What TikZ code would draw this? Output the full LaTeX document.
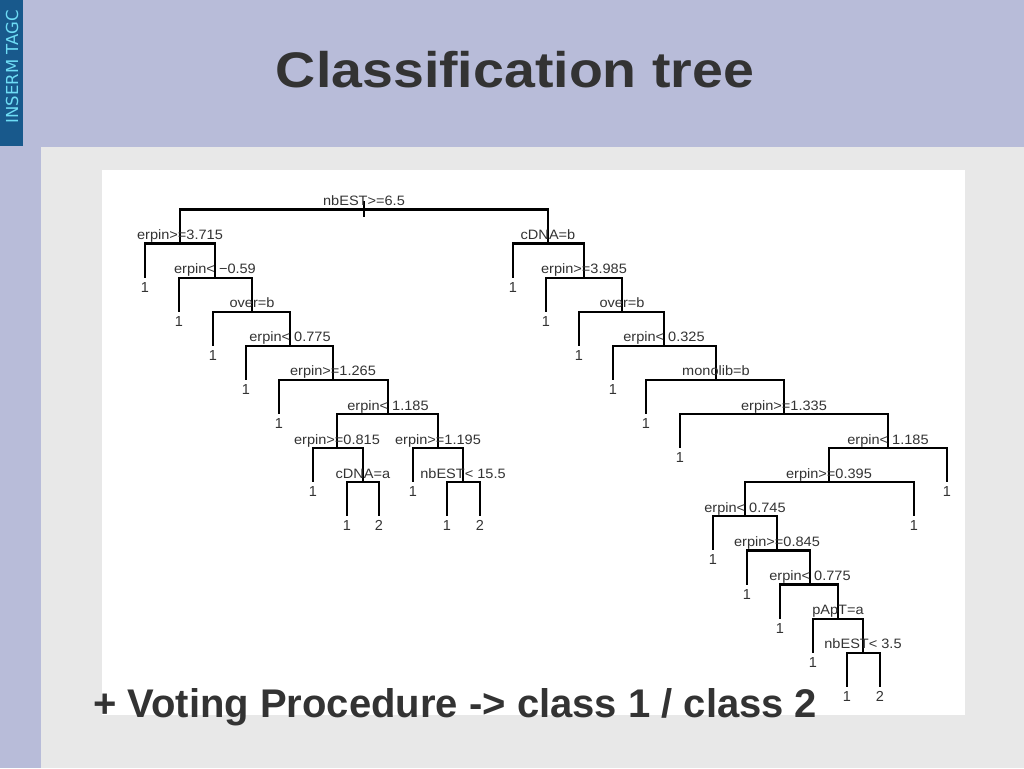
\documentclass[tikz,border=0pt]{standalone}
\usepackage{fontspec}
\setmainfont{Liberation Sans}
\newfontfamily\stripfont{DejaVu Sans}
\definecolor{slidebg}{RGB}{184,188,217}
\definecolor{stripblue}{RGB}{24,89,140}
\definecolor{striptext}{RGB}{110,220,245}
\definecolor{panelgrey}{RGB}{232,232,232}
\definecolor{ink}{RGB}{51,51,51}
\begin{document}
\begin{tikzpicture}[x=1pt,y=-1pt,
  edge/.style={line width=2.2pt, black},
  split/.style={anchor=base, yshift=4pt, inner sep=0pt, text=ink, font=\fontsize{13.6}{15}\selectfont, xscale=1.07},
  leaflab/.style={anchor=base, yshift=-14.5pt, inner sep=0pt, text=ink, font=\fontsize{14.5}{16}\selectfont}]
\useasboundingbox (0,0) rectangle (1024,768);
\fill[slidebg] (0,0) rectangle (1024,768);
\fill[stripblue] (0,0) rectangle (23,146);
\fill[panelgrey] (41,147) rectangle (1024,768);
\fill[white] (102,170) rectangle (965,715);
\node[rotate=90, inner sep=0pt, text=striptext, font=\stripfont\fontsize{16.5}{18}\selectfont] (strip) at (12,67) {INSERM TAGC};
\node[anchor=base, inner sep=0pt, text=ink, font=\bfseries\fontsize{50}{60}\selectfont, xscale=1.11] (title) at (515,87) {Classification tree};
\node[anchor=base west, inner sep=0pt, text=ink, font=\bfseries\fontsize{40}{48}\selectfont] (vote) at (93,717) {+ Voting Procedure -> class 1 / class 2};

% split points and leaves
\coordinate (nr) at (364,209.4);
\coordinate (na) at (180,243.5);
\coordinate (na1) at (145,277.6);
\coordinate (nb) at (215,277.6);
\coordinate (nb1) at (179,311.7);
\coordinate (nc) at (252,311.7);
\coordinate (nc1) at (213,345.8);
\coordinate (nd) at (290,345.8);
\coordinate (nd1) at (246,379.9);
\coordinate (ne) at (333,379.9);
\coordinate (ne1) at (279,414);
\coordinate (nf) at (388,414);
\coordinate (ng) at (337,448.1);
\coordinate (ng1) at (313,482.2);
\coordinate (ni) at (363,482.2);
\coordinate (ni1) at (347,516.3);
\coordinate (ni2) at (379,516.3);
\coordinate (nh) at (438,448.1);
\coordinate (nh1) at (413,482.2);
\coordinate (nj) at (463,482.2);
\coordinate (nj1) at (447,516.3);
\coordinate (nj2) at (480,516.3);
\coordinate (nk) at (548,243.5);
\coordinate (nk1) at (513,277.6);
\coordinate (nl) at (584,277.6);
\coordinate (nl1) at (546,311.7);
\coordinate (nm) at (622,311.7);
\coordinate (nm1) at (579,345.8);
\coordinate (nn) at (664,345.8);
\coordinate (nn1) at (613,379.9);
\coordinate (no) at (716,379.9);
\coordinate (no1) at (646,414);
\coordinate (np) at (784,414);
\coordinate (np1) at (680,448.1);
\coordinate (nq) at (888,448.1);
\coordinate (ns) at (829,482.2);
\coordinate (nq1) at (947,482.2);
\coordinate (nt) at (745,516.3);
\coordinate (ns1) at (914,516.3);
\coordinate (nt1) at (713,550.4);
\coordinate (nu) at (777,550.4);
\coordinate (nu1) at (747,584.5);
\coordinate (nv) at (810,584.5);
\coordinate (nv1) at (780,618.6);
\coordinate (nw) at (838,618.6);
\coordinate (nw1) at (813,652.7);
\coordinate (nx) at (863,652.7);
\coordinate (nx1) at (847,686.8);
\coordinate (nx2) at (880,686.8);

% edges
\draw[edge] ([yshift=8.4pt]nr) -- ([yshift=-7.6pt]nr);
\draw[edge] (nr) -| (na);  \draw[edge] (nr) -| (nk);
\draw[edge] (na) -| (na1); \draw[edge] (na) -| (nb);
\draw[edge] (nb) -| (nb1); \draw[edge] (nb) -| (nc);
\draw[edge] (nc) -| (nc1); \draw[edge] (nc) -| (nd);
\draw[edge] (nd) -| (nd1); \draw[edge] (nd) -| (ne);
\draw[edge] (ne) -| (ne1); \draw[edge] (ne) -| (nf);
\draw[edge] (nf) -| (ng);  \draw[edge] (nf) -| (nh);
\draw[edge] (ng) -| (ng1); \draw[edge] (ng) -| (ni);
\draw[edge] (ni) -| (ni1); \draw[edge] (ni) -| (ni2);
\draw[edge] (nh) -| (nh1); \draw[edge] (nh) -| (nj);
\draw[edge] (nj) -| (nj1); \draw[edge] (nj) -| (nj2);
\draw[edge] (nk) -| (nk1); \draw[edge] (nk) -| (nl);
\draw[edge] (nl) -| (nl1); \draw[edge] (nl) -| (nm);
\draw[edge] (nm) -| (nm1); \draw[edge] (nm) -| (nn);
\draw[edge] (nn) -| (nn1); \draw[edge] (nn) -| (no);
\draw[edge] (no) -| (no1); \draw[edge] (no) -| (np);
\draw[edge] (np) -| (np1); \draw[edge] (np) -| (nq);
\draw[edge] (nq) -| (ns);  \draw[edge] (nq) -| (nq1);
\draw[edge] (ns) -| (nt);  \draw[edge] (ns) -| (ns1);
\draw[edge] (nt) -| (nt1); \draw[edge] (nt) -| (nu);
\draw[edge] (nu) -| (nu1); \draw[edge] (nu) -| (nv);
\draw[edge] (nv) -| (nv1); \draw[edge] (nv) -| (nw);
\draw[edge] (nw) -| (nw1); \draw[edge] (nw) -| (nx);
\draw[edge] (nx) -| (nx1); \draw[edge] (nx) -| (nx2);

% split labels
\node[split] (lr) at (nr) {nbEST>=6.5};
\node[split] (la) at (na) {erpin>=3.715};
\node[split] (lb) at (nb) {erpin< −0.59};
\node[split] (lc) at (nc) {over=b};
\node[split] (ld) at (nd) {erpin< 0.775};
\node[split] (le) at (ne) {erpin>=1.265};
\node[split] (lf) at (nf) {erpin< 1.185};
\node[split] (lg) at (ng) {erpin>=0.815};
\node[split] (li) at (ni) {cDNA=a};
\node[split] (lh) at (nh) {erpin>=1.195};
\node[split] (lj) at (nj) {nbEST< 15.5};
\node[split] (lk) at (nk) {cDNA=b};
\node[split] (ll) at (nl) {erpin>=3.985};
\node[split] (lm) at (nm) {over=b};
\node[split] (ln) at (nn) {erpin< 0.325};
\node[split] (lo) at (no) {monolib=b};
\node[split] (lp) at (np) {erpin>=1.335};
\node[split] (lq) at (nq) {erpin< 1.185};
\node[split] (ls) at (ns) {erpin>=0.395};
\node[split] (lt) at (nt) {erpin< 0.745};
\node[split] (lu) at (nu) {erpin>=0.845};
\node[split] (lv) at (nv) {erpin< 0.775};
\node[split] (lw) at (nw) {pApT=a};
\node[split] (lx) at (nx) {nbEST< 3.5};

% leaf labels
\node[leaflab] (ta1) at (na1) {1};
\node[leaflab] (tb1) at (nb1) {1};
\node[leaflab] (tc1) at (nc1) {1};
\node[leaflab] (td1) at (nd1) {1};
\node[leaflab] (te1) at (ne1) {1};
\node[leaflab] (tg1) at (ng1) {1};
\node[leaflab] (ti1) at (ni1) {1};
\node[leaflab] (ti2) at (ni2) {2};
\node[leaflab] (th1) at (nh1) {1};
\node[leaflab] (tj1) at (nj1) {1};
\node[leaflab] (tj2) at (nj2) {2};
\node[leaflab] (tk1) at (nk1) {1};
\node[leaflab] (tl1) at (nl1) {1};
\node[leaflab] (tm1) at (nm1) {1};
\node[leaflab] (tn1) at (nn1) {1};
\node[leaflab] (to1) at (no1) {1};
\node[leaflab] (tp1) at (np1) {1};
\node[leaflab] (tq1) at (nq1) {1};
\node[leaflab] (ts1) at (ns1) {1};
\node[leaflab] (tt1) at (nt1) {1};
\node[leaflab] (tu1) at (nu1) {1};
\node[leaflab] (tv1) at (nv1) {1};
\node[leaflab] (tw1) at (nw1) {1};
\node[leaflab] (tx1) at (nx1) {1};
\node[leaflab] (tx2) at (nx2) {2};
\end{tikzpicture}
\end{document}
